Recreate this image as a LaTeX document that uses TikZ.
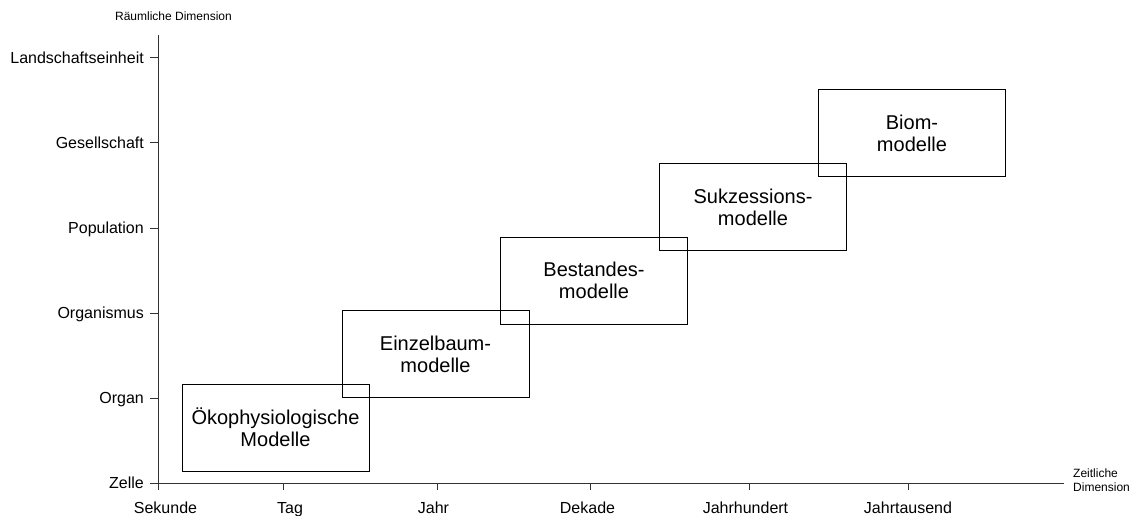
\documentclass[tikz,border=0pt]{standalone}
\usepackage{fontspec}
\setmainfont{Liberation Sans}
\begin{document}
\begin{tikzpicture}[x=1pt,y=-1pt,
  axisline/.style={draw=black!80,line width=1pt},
  modelbox/.style={draw=black,line width=0.9pt,minimum width=187pt,minimum height=87pt,
    inner sep=0pt,align=center,font=\fontsize{20}{22}\selectfont},
  ylab/.style={anchor=base east,inner sep=0pt,font=\fontsize{16}{19}\selectfont},
  xlab/.style={anchor=base,inner sep=0pt,font=\fontsize{16}{19}\selectfont},
  axtitle/.style={inner sep=0pt,font=\fontsize{12}{13.7}\selectfont}]
\useasboundingbox (0,0) rectangle (1135,516);

% axes
\coordinate (o) at (158,483);
\coordinate (ytop) at (158,35);
\coordinate (ybot) at (158,490);
\coordinate (xleft) at (150,483);
\coordinate (xend) at (1064,483);
\draw[axisline] (ytop) -- (ybot);
\draw[axisline] (xleft) -- (xend);

% axis titles
\node[axtitle,anchor=base] (ytitle) at (173.5,21) {Räumliche Dimension};
\node[axtitle,anchor=north west,align=left] (xtitle) at (1073,468.5) {Zeitliche\\Dimension};

% spatial scale
\foreach \y/\name/\txt in {483/zelle/Zelle, 398/organ/Organ, 313/organismus/Organismus,
    228/population/Population, 143/gesellschaft/Gesellschaft, 58/landschaft/Landschaftseinheit}{
  \coordinate (yt-\name) at (150,\y);
  \coordinate (ya-\name) at (158,\y);
  \draw[axisline] (yt-\name) -- (ya-\name);
  \node[ylab] (yl-\name) at (144,\y+5.7) {\txt};
}

% temporal scale: tick position / label position
\foreach \x/\lx/\name/\txt in {158/165.5/sekunde/Sekunde, 283/290/tag/Tag, 437/433.5/jahr/Jahr,
    590/587.5/dekade/Dekade, 749/745.5/jahrhundert/Jahrhundert, 908/908/jahrtausend/Jahrtausend}{
  \coordinate (xa-\name) at (\x,483);
  \coordinate (xt-\name) at (\x,490);
  \draw[axisline] (xa-\name) -- (xt-\name);
  \node[xlab] (xl-\name) at (\lx,513.3) {\txt};
}

% model classes
\node[modelbox] (oeko)    at (275.5,427.5) {Ökophysiologische\\Modelle};
\node[modelbox] (einzel)  at (435.5,354)   {Einzelbaum-\\modelle};
\node[modelbox] (bestand) at (594,280.5)   {Bestandes-\\modelle};
\node[modelbox] (sukz)    at (753,207)     {Sukzessions-\\modelle};
\node[modelbox] (biom)    at (912,133)     {Biom-\\modelle};
\end{tikzpicture}
\end{document}
